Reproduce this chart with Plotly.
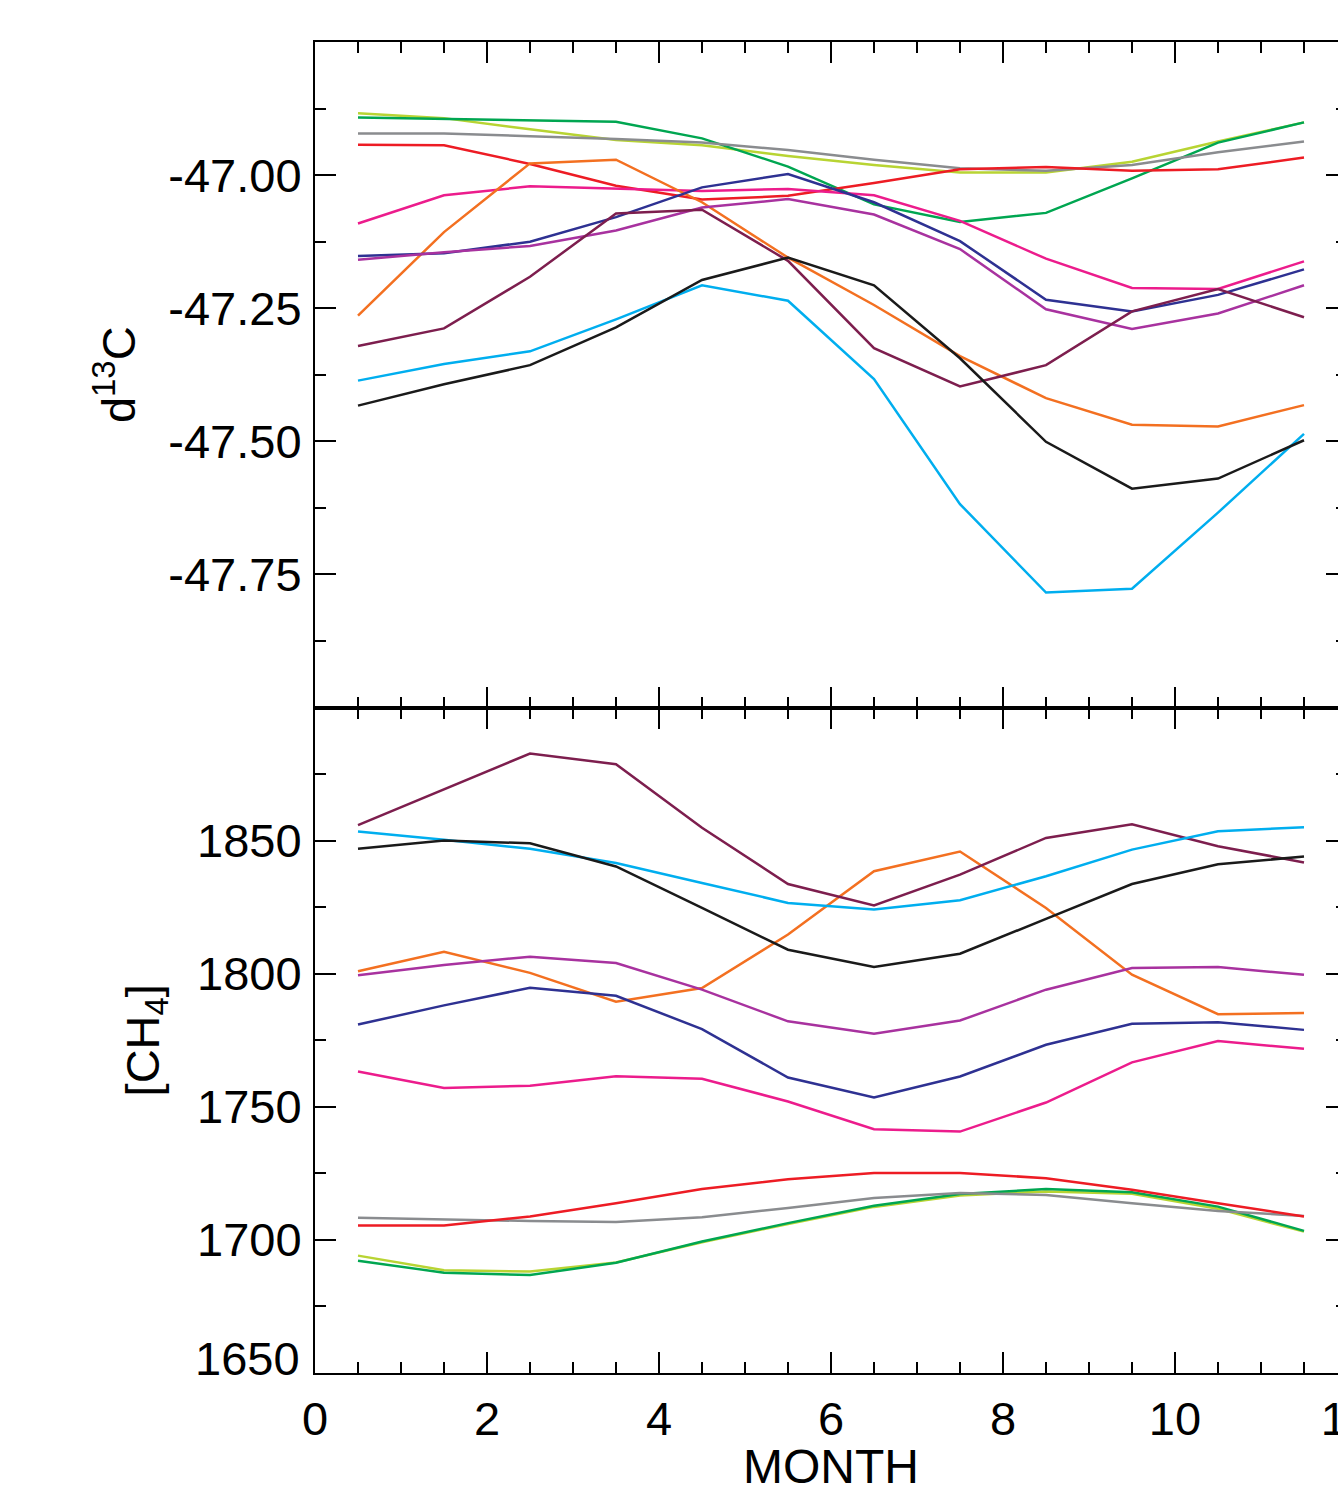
import plotly.graph_objects as go
from plotly.subplots import make_subplots

# ---------------- data ----------------
months = [0.5, 1.5, 2.5, 3.5, 4.5, 5.5, 6.5, 7.5, 8.5, 9.5, 10.5, 11.5]

series_names = ["yellowgreen", "green", "gray", "red", "pink", "orange",
                "navy", "purple", "maroon", "cyan", "black"]
series_colors = ["#B8D433", "#00A651", "#8A8C8F", "#ED1C24", "#EC1C8C", "#F37021",
                 "#2E3192", "#A8329F", "#7D1E4E", "#00AEEF", "#1A1A1A"]

d13c_yellowgreen = [-46.884, -46.893, -46.914, -46.934, -46.944, -46.964, -46.981, -46.995, -46.995, -46.975, -46.937, -46.901]
d13c_green = [-46.892, -46.895, -46.897, -46.900, -46.931, -46.984, -47.055, -47.088, -47.071, -47.006, -46.939, -46.901]
d13c_gray = [-46.922, -46.922, -46.927, -46.932, -46.939, -46.953, -46.971, -46.987, -46.992, -46.981, -46.957, -46.937]
d13c_red = [-46.943, -46.944, -46.979, -47.020, -47.046, -47.039, -47.015, -46.989, -46.985, -46.992, -46.989, -46.967]
d13c_pink = [-47.091, -47.038, -47.021, -47.025, -47.030, -47.026, -47.038, -47.086, -47.157, -47.212, -47.214, -47.162]
d13c_orange = [-47.264, -47.107, -46.978, -46.971, -47.051, -47.155, -47.244, -47.340, -47.419, -47.469, -47.472, -47.432]
d13c_navy = [-47.152, -47.147, -47.125, -47.079, -47.023, -46.998, -47.051, -47.124, -47.234, -47.256, -47.225, -47.177]
d13c_purple = [-47.159, -47.145, -47.133, -47.104, -47.061, -47.045, -47.074, -47.139, -47.252, -47.289, -47.260, -47.207]
d13c_maroon = [-47.321, -47.288, -47.191, -47.072, -47.065, -47.161, -47.325, -47.397, -47.357, -47.256, -47.214, -47.267]
d13c_cyan = [-47.386, -47.355, -47.331, -47.271, -47.207, -47.236, -47.383, -47.618, -47.784, -47.777, -47.634, -47.486]
d13c_black = [-47.433, -47.393, -47.357, -47.286, -47.197, -47.155, -47.207, -47.344, -47.501, -47.589, -47.570, -47.498]

ch4_yellowgreen = [1694.1, 1688.6, 1688.1, 1691.5, 1699.1, 1706.0, 1712.4, 1716.7, 1718.2, 1717.3, 1711.7, 1703.1]
ch4_green = [1692.2, 1687.7, 1686.8, 1691.4, 1699.4, 1706.3, 1712.8, 1717.2, 1719.1, 1717.9, 1712.5, 1703.4]
ch4_gray = [1708.3, 1707.6, 1707.1, 1706.7, 1708.5, 1712.0, 1715.7, 1717.6, 1716.9, 1713.8, 1710.9, 1709.0]
ch4_red = [1705.4, 1705.4, 1708.8, 1713.8, 1719.1, 1722.8, 1725.1, 1725.1, 1723.2, 1718.8, 1713.8, 1708.8]
ch4_pink = [1763.3, 1757.1, 1757.9, 1761.5, 1760.5, 1752.0, 1741.6, 1740.7, 1751.6, 1766.7, 1774.7, 1771.8]
ch4_orange = [1800.9, 1808.2, 1800.3, 1789.5, 1794.6, 1814.7, 1838.5, 1845.9, 1824.7, 1799.6, 1784.8, 1785.2]
ch4_navy = [1780.9, 1788.1, 1794.7, 1791.7, 1779.2, 1761.0, 1753.5, 1761.4, 1773.3, 1781.2, 1781.8, 1778.9]
ch4_purple = [1799.4, 1803.3, 1806.4, 1804.0, 1794.0, 1782.1, 1777.4, 1782.4, 1794.0, 1802.1, 1802.5, 1799.6]
ch4_maroon = [1855.8, 1869.2, 1882.7, 1878.7, 1854.8, 1833.7, 1825.6, 1837.2, 1851.0, 1856.1, 1847.9, 1841.8]
ch4_cyan = [1853.4, 1850.3, 1846.9, 1841.6, 1834.1, 1826.6, 1824.1, 1827.6, 1836.6, 1846.6, 1853.5, 1855.0]
ch4_black = [1846.9, 1850.0, 1849.0, 1840.3, 1824.7, 1809.0, 1802.5, 1807.5, 1820.6, 1833.7, 1841.1, 1844.0]

x_tickvals = [0, 2, 4, 6, 8, 10, 12]
x_ticktext = ["0", "2", "4", "6", "8", "10", "12"]
d13c_tickvals = [-47.75, -47.50, -47.25, -47.00]
d13c_ticktext = ["-47.75", "-47.50", "-47.25", "-47.00"]
ch4_tickvals = [1650, 1700, 1750, 1800, 1850]
ch4_ticktext = ["1650", "1700", "1750", "1800", "1850"]

d13c_series = [d13c_yellowgreen, d13c_green, d13c_gray, d13c_red, d13c_pink, d13c_orange,
               d13c_navy, d13c_purple, d13c_maroon, d13c_cyan, d13c_black]
ch4_series = [ch4_yellowgreen, ch4_green, ch4_gray, ch4_red, ch4_pink, ch4_orange,
              ch4_navy, ch4_purple, ch4_maroon, ch4_cyan, ch4_black]

# ---------------- figure ----------------
FONT = "Liberation Sans, Arial, Helvetica, sans-serif"
FS = 47

fig = make_subplots(rows=2, cols=1, vertical_spacing=0)

for name, col, ys in zip(series_names, series_colors, d13c_series):
    fig.add_trace(go.Scatter(x=months, y=ys, mode="lines", name=name,
                             line=dict(color=col, width=2.5), showlegend=False), row=1, col=1)
for name, col, ys in zip(series_names, series_colors, ch4_series):
    fig.add_trace(go.Scatter(x=months, y=ys, mode="lines", name=name,
                             line=dict(color=col, width=2.5), showlegend=False), row=2, col=1)

axis_common = dict(showline=True, linecolor="black", linewidth=2, mirror="ticks",
                   ticks="inside", tickcolor="black", tickwidth=2, ticklen=21,
                   showgrid=False, zeroline=False, automargin=False,
                   tickfont=dict(family=FONT, size=FS, color="black"))

minor_common = dict(ticks="inside", ticklen=11, tickwidth=2, tickcolor="black", showgrid=False)

fig.update_xaxes(range=[0, 12], tickmode="array", tickvals=x_tickvals, ticktext=x_ticktext,
                 minor=dict(dtick=0.5, **minor_common), **axis_common)
fig.update_xaxes(showticklabels=False, row=1, col=1)
fig.update_xaxes(title=dict(text="MONTH", font=dict(family=FONT, size=FS + 1, color="black"), standoff=8),
                 ticklabelstandoff=4, row=2, col=1)

fig.update_yaxes(range=[-48.0, -46.75], tickmode="array", tickvals=d13c_tickvals, ticktext=d13c_ticktext,
                 minor=dict(tick0=-48.0, dtick=0.125, **minor_common),
                 title=dict(text="d<sup>13</sup>C", font=dict(family=FONT, size=FS, color="black"), standoff=18),
                 ticklabelstandoff=2,
                 row=1, col=1, **axis_common)

# bottom panel: the lowest label is lifted above its tick, as in the original
ch4_labels_shown = [t if v != ch4_tickvals[0] else "" for v, t in zip(ch4_tickvals, ch4_ticktext)]
fig.update_yaxes(range=[1650, 1900], tickmode="array", tickvals=ch4_tickvals, ticktext=ch4_labels_shown,
                 minor=dict(tick0=1650, dtick=25, **minor_common),
                 title=dict(text="[CH<sub>4</sub>]", font=dict(family=FONT, size=FS, color="black"), standoff=23),
                 ticklabelstandoff=2,
                 row=2, col=1, **axis_common)
fig.add_annotation(x=0, xref="x2 domain", y=ch4_tickvals[0], yref="y2",
                   text=ch4_ticktext[0], showarrow=False, xanchor="right", yanchor="middle",
                   xshift=-13, yshift=15, font=dict(family=FONT, size=FS, color="black"))

fig.update_layout(width=1400, height=1493,
                  margin=dict(l=315, r=53, t=42, b=120),
                  plot_bgcolor="white", paper_bgcolor="white",
                  font=dict(family=FONT, size=FS, color="black"))

fig.write_html("out.html", config={"displayModeBar": False},
               post_script="document.body.style.margin='0';document.body.style.overflow='hidden';"
                           "document.documentElement.style.overflow='hidden';")
